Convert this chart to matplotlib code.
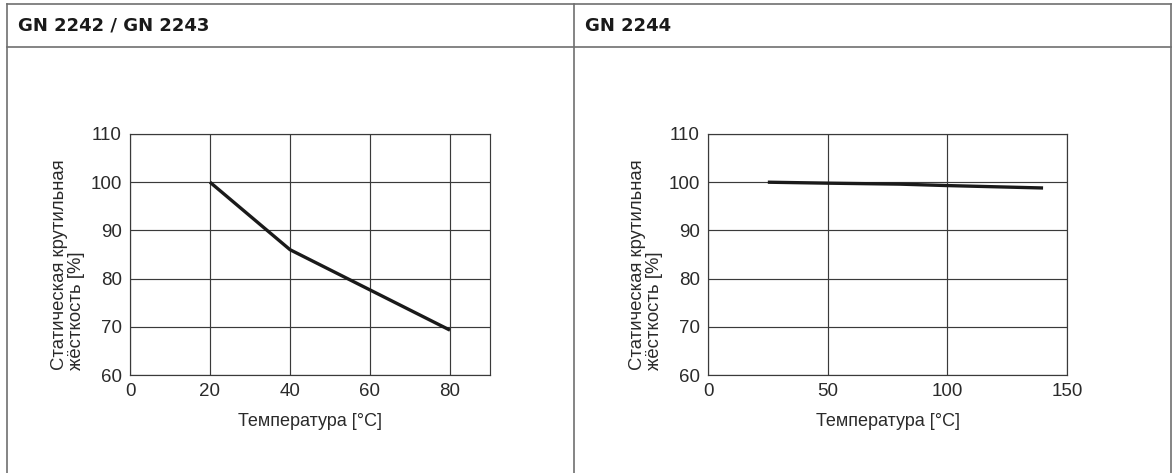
import matplotlib
matplotlib.use("Agg")
import matplotlib.pyplot as plt
from matplotlib.lines import Line2D

plt.rcParams['font.family'] = ['Liberation Sans', 'DejaVu Sans']

W, H = 1172, 473

# data
temp_a = [20, 40, 80]
stiff_a = [100, 86, 69.3]
temp_b = [25, 50, 80, 100, 140]
stiff_b = [100, 99.8, 99.6, 99.3, 98.8]

titles = ["GN 2242 / GN 2243", "GN 2244"]
ylabel = "Статическая крутильная\nжёсткость [%]"
xlabel = "Температура [°C]"
yticks = [60, 70, 80, 90, 100, 110]
xticks_a = [0, 20, 40, 60, 80]
xticks_b = [0, 50, 100, 150]

fig = plt.figure(figsize=(W / 100, H / 100), dpi=100)
fig.patch.set_facecolor("white")


def px_x(x):
    return x / W


def px_y(y):
    return 1 - y / H


# table frame
frame = dict(color="#707070", lw=1.2, transform=fig.transFigure)
fig.add_artist(Line2D([px_x(7), px_x(1171)], [px_y(4), px_y(4)], **frame))
fig.add_artist(Line2D([px_x(7), px_x(1171)], [px_y(47), px_y(47)], **frame))
for xv in (7, 574, 1171):
    fig.add_artist(Line2D([px_x(xv), px_x(xv)], [px_y(4), px_y(473)], **frame))

for xpos, t in zip((18, 585), titles):
    fig.text(px_x(xpos), px_y(26), t, fontsize=13, fontweight="bold",
             family="DejaVu Sans", va="center", ha="left", color="#1a1a1a")


def setup(ax, xt, xmax):
    ax.set_xlim(0, xmax)
    ax.set_ylim(60, 110)
    ax.set_xticks(xt)
    ax.set_yticks(yticks)
    ax.grid(True, color="#3a3a3a", lw=0.85)
    ax.set_axisbelow(True)
    for s in ax.spines.values():
        s.set_color("#3a3a3a")
        s.set_linewidth(0.85)
    ax.tick_params(length=0, labelsize=13.5, colors="#2a2a2a", pad=6)
    ax.set_xlabel(xlabel, fontsize=13, color="#2a2a2a", labelpad=9)
    ax.text(-0.125, 0.02, ylabel, transform=ax.transAxes, rotation=90,
            ha="right", va="bottom", multialignment="left",
            fontsize=13.3, color="#2a2a2a", linespacing=1.0)


ax1 = fig.add_axes([px_x(130), px_y(375), px_x(490) - px_x(130), px_y(134) - px_y(375)])
setup(ax1, xticks_a, 90)
ax1.plot(temp_a, stiff_a, color="#1a1a1a", lw=2.4, solid_capstyle="butt")

ax2 = fig.add_axes([px_x(708), px_y(375), px_x(1067) - px_x(708), px_y(134) - px_y(375)])
setup(ax2, xticks_b, 150)
ax2.plot(temp_b, stiff_b, color="#1a1a1a", lw=2.4, solid_capstyle="butt")

fig.savefig("out.png", dpi=100)
